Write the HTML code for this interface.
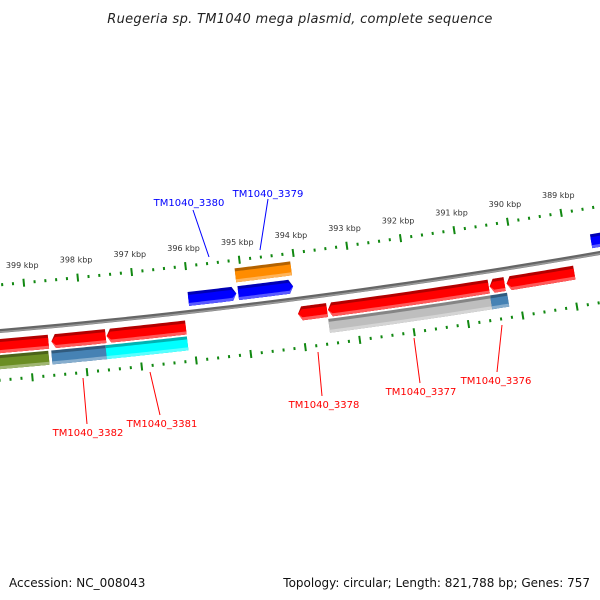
<!DOCTYPE html>
<html><head><meta charset="utf-8"><style>
html,body{margin:0;padding:0;background:#fff;width:600px;height:600px;overflow:hidden}
svg{display:block;font-family:"DejaVu Sans","Liberation Sans",sans-serif}
</style></head><body>
<svg id="map" width="600" height="600" viewBox="0 0 600 600">
<text x="300" y="23" text-anchor="middle" font-size="13" font-style="italic" letter-spacing="0.3" fill="#222">Ruegeria sp. TM1040 mega plasmid, complete sequence</text>
<text x="9" y="587" font-size="12" fill="#111">Accession: NC_008043</text>
<text x="590" y="587" text-anchor="end" font-size="12" fill="#111">Topology: circular; Length: 821,788 bp; Genes: 757</text>
<g id="rings"></g>
<g id="labels"></g>
</svg>
<script>
const genomeLength = 821788;
const tickKbp = [388,389,390,391,392,393,394,395,396,397,398,399,400];
const labelKbp = [389,390,391,392,393,394,395,396,397,398,399];
// features: [startBp, endBp]
const fwdStarts = [395131, 394079, 388000];
const fwdEnds   = [396017, 395094, 388544];
const fwdColors = ['#0000ff','#0000ff','#0000ff'];
const fwdCogStarts = [394074];
const fwdCogEnds   = [395107];
const fwdCogColors = ['#ff8c00'];
const revStarts = [398649, 397598, 396122, 393520, 390531, 390236, 388945];
const revEnds   = [400200, 398594, 397579, 394055, 393502, 390513, 390199];
const revCogStarts = [398668, 397616, 396122, 390531, 390218];
const revCogEnds   = [400200, 398613, 397616, 393520, 390531];
const revCogColors = ['#6b8e23','#4682b4','#00ffff','#bebebe','#4682b4'];
const labelNames = ['TM1040_3380','TM1040_3379','TM1040_3382','TM1040_3381','TM1040_3378','TM1040_3377','TM1040_3376'];

const CX=-620, CY=-6777;
const R_RULER=7089, R_LABEL=7072, R_FCOG=[7097,7111], R_FWD=[7115,7129], R_BB=7135, R_REV=[7143,7157], R_RCOG=[7159,7173], R_RULER2=7184;
const NS='http://www.w3.org/2000/svg';
function ang(bp){return bp/genomeLength*2*Math.PI;}
function pt(bp,r){const a=ang(bp);return [CX+r*Math.sin(a), CY-r*Math.cos(a)];}
function el(tag,attrs,parent){const e=document.createElementNS(NS,tag);for(const k in attrs)e.setAttribute(k,attrs[k]);parent.appendChild(e);return e;}
const rings=document.getElementById('rings');
const labels=document.getElementById('labels');
const TIP=4*genomeLength/(2*Math.PI*7130);

function shape(s,e,rin,rout,tip,tipR){
  let s2=s,e2=e;
  if(tip===1)s2=s+TIP; if(tip===2)e2=e-TIP;
  const p=[];
  const n=20;
  for(let i=0;i<=n;i++){p.push(pt(s2+(e2-s2)*i/n,rout));}
  if(tip===2)p.push(pt(e,tipR));
  for(let i=n;i>=0;i--){p.push(pt(s2+(e2-s2)*i/n,rin));}
  if(tip===1)p.push(pt(s,tipR));
  return 'M'+p.map(q=>q[0].toFixed(2)+','+q[1].toFixed(2)).join('L')+'Z';
}
function shade(c,f){const h=c.replace('#','');let r=parseInt(h.substr(0,2),16),g=parseInt(h.substr(2,2),16),b=parseInt(h.substr(4,2),16);
  if(f<1){r*=f;g*=f;b*=f;}else{const t=f-1;r+=(255-r)*t;g+=(255-g)*t;b+=(255-b)*t;}
  return 'rgb('+Math.round(r)+','+Math.round(g)+','+Math.round(b)+')';}
function feature(s,e,ring,color,tip,name){
  const g=el('g',{},rings);
  
  
  const tipR=(ring[0]+ring[1])/2;
  el('path',{d:shape(s,e,ring[0],ring[1],tip,tipR),fill:shade(color,0.7)},g);
  el('path',{d:shape(s,e,ring[0]+3,ring[1],tip,tipR),fill:color},g);
  el('path',{d:shape(s,e,ring[1]-3,ring[1],tip,tipR),fill:shade(color,1.35)},g);
}

(function(){
  const p=[];for(let i=0;i<=40;i++){p.push(pt(386000+i*400,R_BB));}
  const d='M'+p.map(q=>q.join(',')).join('L');
  const b=el('path',{d:d,fill:'none',stroke:'#666',"stroke-width":4},rings);
  
  
  const b2=el('path',{d:d,fill:'none',stroke:'#999',"stroke-width":1.5,transform:'translate(0,1)'},rings);
  
  
})();

function tick(bp,r,big,name){
  const len=big?8:3;const w=2;
  const c1=pt(bp,r-len/2),c2=pt(bp,r+len/2);
  const t=el('line',{x1:c1[0],y1:c1[1],x2:c2[0],y2:c2[1],stroke:'#118811',"stroke-width":w},rings);
  
  
}
for(let k=0;k<tickKbp.length;k++){
  const kb=tickKbp[k];
  for(let j=0;j<5;j++){
    const bp=kb*1000+j*200;
    tick(bp,R_RULER,j===0,j===0?'ruler-major-tick':'ruler-minor-tick');
    tick(bp,R_RULER2,j===0,j===0?'inner-ruler-major-tick':'inner-ruler-minor-tick');
  }
}
for(let k=0;k<labelKbp.length;k++){
  const kb=labelKbp[k];
  const p=pt(kb*1000,R_LABEL);
  const t=el('text',{x:p[0],y:p[1]+2,"text-anchor":'middle',"font-size":8,fill:'#333'},labels);
  t.textContent=kb+' kbp';
  
  
}

for(let i=0;i<fwdCogStarts.length;i++)feature(fwdCogStarts[i],fwdCogEnds[i],R_FCOG,fwdCogColors[i],0,'forward-cog-feature');
for(let i=0;i<fwdStarts.length;i++)feature(fwdStarts[i],fwdEnds[i],R_FWD,fwdColors[i],i<2?1:0,'forward-gene');
for(let i=0;i<revStarts.length;i++)feature(revStarts[i],revEnds[i],R_REV,'#ff0000',i===0?0:2,'reverse-gene');
for(let i=0;i<revCogStarts.length;i++)feature(revCogStarts[i],revCogEnds[i],R_RCOG,revCogColors[i],0,'reverse-cog-feature');

const lab=[
 [labelNames[0],'#0000ff',189,206,193,210,209,257],
 [labelNames[1],'#0000ff',268,197,268,199,260,250],
 [labelNames[2],'#ff0000',88,436,83,378,87,424],
 [labelNames[3],'#ff0000',162,427,150,372,160,415],
 [labelNames[4],'#ff0000',324,408,318,352,322,396],
 [labelNames[5],'#ff0000',421,395,414,338,420,383],
 [labelNames[6],'#ff0000',496,384,502,325,497,372]
];
lab.forEach(l=>{
  const ln=el('line',{x1:l[4],y1:l[5],x2:l[6],y2:l[7],stroke:l[1],"stroke-width":1},labels);
  
  
  const t=el('text',{x:l[2],y:l[3],"text-anchor":'middle',"font-size":10,fill:l[1]},labels);
  t.textContent=l[0];
  
  
});
</script>
</body></html>
